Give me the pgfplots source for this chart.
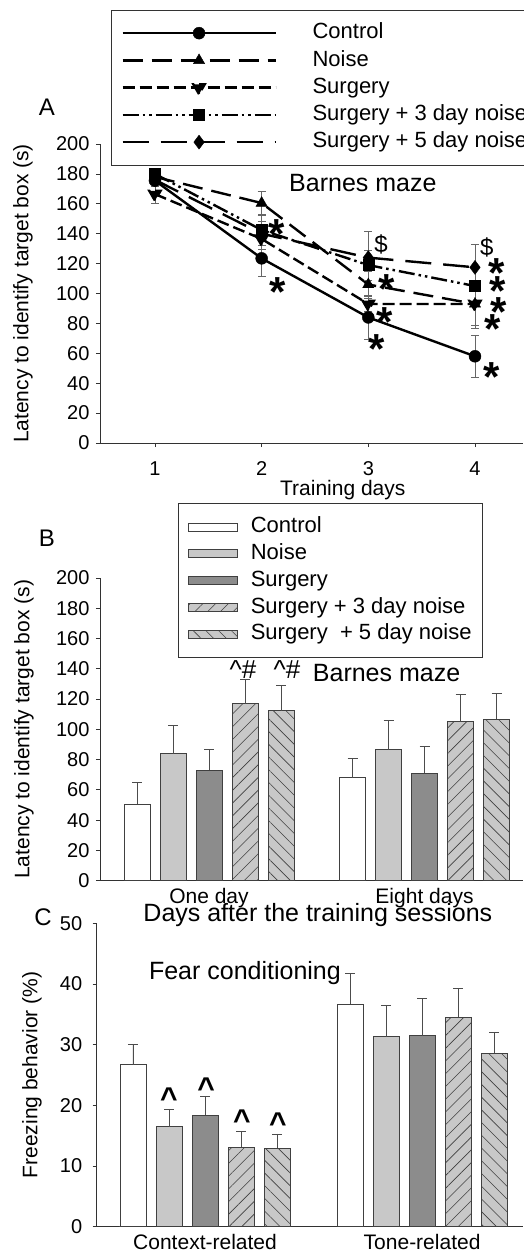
\documentclass[border=0pt]{standalone}
\usepackage{fontspec}
\setmainfont{Liberation Sans}
\usepackage{pgfplots}
\pgfplotsset{compat=1.18}
\usetikzlibrary{patterns.meta}

\definecolor{lgray}{RGB}{200,200,200}
\definecolor{dgray}{RGB}{140,140,140}
\definecolor{axc}{RGB}{50,50,50}

\pgfplotsset{
  base/.style={
    scale only axis,
    axis x line=bottom, axis y line=left,
    axis line style={-, axc, line width=0.8pt},
    tick align=outside,
    tick style={axc, line width=0.8pt},
    major tick length=4pt,
    /pgf/number format/assume math mode=true,
    ticklabel style={font=\fontsize{20}{20}\selectfont},
    yticklabel style={xshift=-3pt},
    label style={font=\fontsize{21}{21}\selectfont},
    clip=false,
  },
  aplot/.style={
    black, line width=2.4pt,
    mark options={solid, line width=0.4pt, fill=black},
    /pgfplots/error bars/y dir=both,
    /pgfplots/error bars/y explicit,
    /pgfplots/error bars/error bar style={solid, line width=0.7pt, black!60},
    /pgfplots/error bars/error mark options={rotate=90, solid, line width=0.7pt, black!60, mark size=4pt},
  },
  bplot/.style={
    ybar, bar width=26pt, bar shift=0pt, draw=black!75, line width=0.6pt,
    /pgfplots/legend image code/.code={\draw[##1] (0pt,-4pt) rectangle (49pt,4pt); \path[draw=none,fill=none] (61pt,0pt);},
    /pgfplots/error bars/y dir=plus,
    /pgfplots/error bars/y explicit,
    /pgfplots/error bars/error bar style={solid, line width=0.7pt, black!70},
    /pgfplots/error bars/error mark options={rotate=90, solid, line width=0.7pt, black!70, mark size=5pt},
  },
}
\tikzset{
  ast/.style={font=\bfseries\fontsize{42}{42}\selectfont, yshift=-9pt, inner sep=0pt},
  dol/.style={font=\fontsize{24}{24}\selectfont, inner sep=0pt},
  car/.style={font=\bfseries\fontsize{30}{30}\selectfont, yshift=-5pt, inner sep=0pt},
  hatA/.style={postaction={pattern={Lines[angle=45,distance=9pt,line width=0.6pt]}, pattern color=black!75}},
  hatB/.style={postaction={pattern={Lines[angle=-45,distance=9pt,line width=0.6pt]}, pattern color=black!75}},
}

\begin{document}
\begin{tikzpicture}
\useasboundingbox (0pt,0pt) rectangle (523pt,-1252pt);

% ---------------- Panel A ----------------
\begin{axis}[base,
  at={(100pt,-443pt)}, anchor=south west,
  width=423pt, height=299pt,
  xmin=0.485, xmax=4.45, ymin=0, ymax=200,
  xtick={1,2,3,4}, ytick={0,20,...,200},
  xticklabel style={yshift=-11pt},
  xlabel={Training days},
  xlabel style={at={(axis description cs:0.574,-0.157)}, anchor=center},
  ylabel={Latency to identify target box (s)},
  ylabel style={at={(axis description cs:-0.182,0.5)}, anchor=center},
  legend cell align=left,
  legend image code/.code={\draw[mark repeat=2,mark phase=2,#1] plot coordinates {(0pt,0pt) (76.5pt,0pt) (153pt,0pt)}; \path[draw=none,fill=none] (189pt,0pt);},
  legend style={at={(axis description cs:0.026,1.448)}, anchor=north west,
    draw=black!80, line width=0.7pt, inner xsep=10pt, inner ysep=11.5pt,
    font=\fontsize{22}{22}\selectfont, row sep=4.75pt,
    nodes={inner sep=1pt, text height=16pt, text depth=4.5pt}},
]
\addplot[aplot, mark=*, mark size=6pt] coordinates {(1,175.5) +- (0,4) (2,123.5) +- (0,12) (3,84) +- (0,15) (4,58) +- (0,14)};
\addlegendentry{Control}
\addplot[aplot, dash pattern=on 20pt off 9pt, mark=triangle*, mark size=6.5pt] coordinates {(1,178) +- (0,4) (2,160.5) +- (0,7.5) (3,106) +- (0,9) (4,93) +- (0,14)};
\addlegendentry{Noise}
\addplot[aplot, dash pattern=on 12pt off 5pt, mark=triangle*, mark size=6.5pt, mark options={rotate=180}] coordinates {(1,166.5) +- (0,6.5) (2,136.5) +- (0,7) (3,93) +- (0,5) (4,93) +- (0,16)};
\addlegendentry{Surgery}
\addplot[aplot, dash pattern=on 16pt off 4pt on 2.5pt off 4pt on 2.5pt off 4pt, mark=square*, mark size=5.5pt] coordinates {(1,180) +- (0,3) (2,142.5) +- (0,10) (3,119) +- (0,10) (4,105) +- (0,12)};
\addlegendentry{Surgery + 3 day noise}
\addplot[aplot, dash pattern=on 26pt off 12pt, mark=diamond*, mark size=7pt] coordinates {(1,176) +- (0,4) (2,140) +- (0,8) (3,124) +- (0,17.5) (4,117.5) +- (0,15.5)};
\addlegendentry{Surgery + 5 day noise}

\node[font=\fontsize{25}{25}\selectfont] at (axis cs:2.949,173.9) {Barnes maze};
\node[ast] at (axis cs:2.143,145.8) {*};
\node[ast] at (axis cs:2.153,107) {*};
\node[ast] at (axis cs:3.174,109) {*};
\node[ast] at (axis cs:3.156,87) {*};
\node[ast] at (axis cs:3.08,69) {*};
\node[dol] at (axis cs:3.12,133) {\$};
\node[dol] at (axis cs:4.11,131) {\$};
\node[ast] at (axis cs:4.205,120) {*};
\node[ast] at (axis cs:4.215,107.7) {*};
\node[ast] at (axis cs:4.224,93.6) {*};
\node[ast] at (axis cs:4.168,82.3) {*};
\node[ast] at (axis cs:4.158,50) {*};
\end{axis}
\node[font=\fontsize{24}{24}\selectfont] at (47pt,-107pt) {A};

% ---------------- Panel B ----------------
\begin{axis}[base,
  at={(100pt,-880.7pt)}, anchor=south west,
  width=423pt, height=302.7pt,
  xmin=0.4942, xmax=2.457, ymin=0, ymax=200,
  xtick={1,2}, xticklabels={One day, Eight days},
  xtick style={draw=none},
  xticklabel style={font=\fontsize{21}{21}\selectfont},
  ytick={0,20,...,200},
  xlabel={Days after the training sessions},
  xlabel style={at={(axis description cs:0.515,-0.113)}, anchor=center, font=\fontsize{25}{25}\selectfont},
  ylabel={Latency to identify target box (s)},
  ylabel style={at={(axis description cs:-0.180,0.5)}, anchor=center},
  legend cell align=left,
  legend style={at={(axis description cs:0.184,1.248)}, anchor=north west,
    draw=black!80, line width=0.7pt, inner xsep=10pt, inner ysep=12.5pt,
    font=\fontsize{22}{22}\selectfont, row sep=4.25pt,
    nodes={inner sep=1pt, text height=16pt, text depth=4.5pt}},
]
\addplot[bplot, fill=white] coordinates {(0.6659,50.6) +- (0,14.4) (1.6659,68) +- (0,13)};
\addlegendentry{Control}
\addplot[bplot, fill=lgray] coordinates {(0.83295,84) +- (0,18.6) (1.83295,86.5) +- (0,19.2)};
\addlegendentry{Noise}
\addplot[bplot, fill=dgray] coordinates {(1,73) +- (0,14) (2,71) +- (0,17.7)};
\addlegendentry{Surgery}
\addplot[bplot, fill=lgray, hatA] coordinates {(1.16705,117) +- (0,16) (2.16705,105) +- (0,18)};
\addlegendentry{Surgery + 3 day noise}
\addplot[bplot, fill=lgray, hatB] coordinates {(1.3341,112.4) +- (0,16.6) (2.3341,106.6) +- (0,17.4)};
\addlegendentry{Surgery\ \ + 5 day noise}

\node[font=\fontsize{26}{26}\selectfont] at (axis cs:1.158,139.2) {\textasciicircum\#};
\node[font=\fontsize{26}{26}\selectfont] at (axis cs:1.362,139.2) {\textasciicircum\#};
\node[font=\fontsize{25}{25}\selectfont] at (axis cs:1.824,137.2) {Barnes maze};
\end{axis}
\node[font=\fontsize{24}{24}\selectfont] at (47pt,-538pt) {B};

% ---------------- Panel C ----------------
\begin{axis}[base,
  at={(96.7pt,-1226.7pt)}, anchor=south west,
  width=426.3pt, height=303.4pt,
  xmin=0.501, xmax=2.465, ymin=0, ymax=50,
  xtick={1,2}, xticklabels={Context-related, Tone-related},
  xtick style={draw=none},
  xticklabel style={font=\fontsize{21}{21}\selectfont},
  ytick={0,10,...,50},
  yticklabel style={xshift=-4pt},
  ylabel={Freezing behavior (\%)},
  ylabel style={at={(axis description cs:-0.152,0.5)}, anchor=center},
]
\addplot[bplot, fill=white] coordinates {(0.6682,26.7) +- (0,3.3) (1.6682,36.7) +- (0,5.1)};
\addplot[bplot, fill=lgray] coordinates {(0.8341,16.5) +- (0,2.9) (1.8341,31.3) +- (0,5.2)};
\addplot[bplot, fill=dgray] coordinates {(1,18.4) +- (0,3.1) (2,31.5) +- (0,6.1)};
\addplot[bplot, fill=lgray, hatA] coordinates {(1.1659,13.1) +- (0,2.6) (2.1659,34.5) +- (0,4.7)};
\addplot[bplot, fill=lgray, hatB] coordinates {(1.3318,12.9) +- (0,2.4) (2.3318,28.6) +- (0,3.4)};

\node[font=\fontsize{25}{25}\selectfont] at (axis cs:1.184,41.8) {Fear conditioning};
\node[car] at (axis cs:0.834,22.0) {\textasciicircum};
\node[car] at (axis cs:1.005,23.7) {\textasciicircum};
\node[car] at (axis cs:1.170,18.4) {\textasciicircum};
\node[car] at (axis cs:1.336,17.9) {\textasciicircum};
\end{axis}
\node[font=\fontsize{24}{24}\selectfont] at (43pt,-917pt) {C};

\end{tikzpicture}
\end{document}
